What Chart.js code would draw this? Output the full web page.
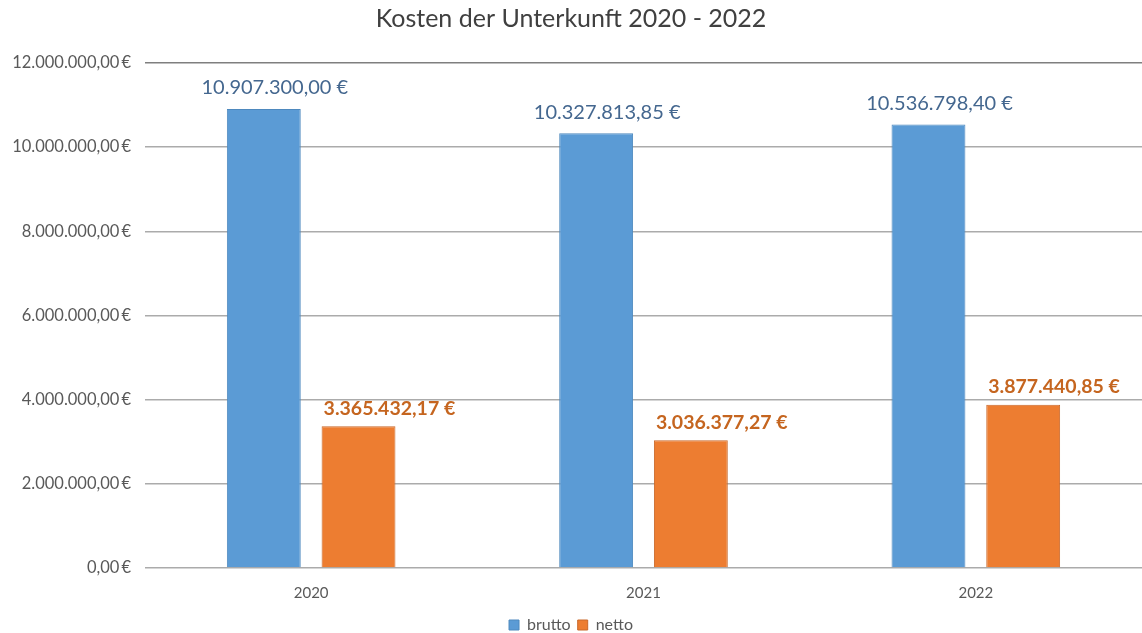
<!DOCTYPE html>
<html lang="de">
<head>
<meta charset="utf-8">
<title>Kosten der Unterkunft 2020 - 2022</title>
<script src="https://cdn.jsdelivr.net/npm/chart.js@4.4.1/dist/chart.umd.min.js"></script>
<style>
  html, body { margin: 0; padding: 0; background: #fff; }
  #wrap { width: 1142px; height: 633px; }
</style>
</head>
<body>
<div id="wrap"><canvas id="chartKosten"></canvas></div>
<script>
'use strict';

/* ── DATA ── */
const YEARS  = ['2020', '2021', '2022'];
const BRUTTO = [10907300.00, 10327813.85, 10536798.40];
const NETTO  = [3365432.17, 3036377.27, 3877440.85];
const Y_MAX  = 12000000;
const Y_STEP = 2000000;

const BLUE   = '#5B9BD5';
const ORANGE = '#ED7D31';

/* ── Utilities ── */
const fmtEuro = v => v.toLocaleString('de-DE', { minimumFractionDigits: 2, maximumFractionDigits: 2 }) + ' €';
const fmtTick = v => v.toLocaleString('de-DE', { minimumFractionDigits: 2, maximumFractionDigits: 2 }) + '\u2009€';

const FONT = "Lato, 'Open Sans', sans-serif";

Chart.defaults.font.family = FONT;
Chart.defaults.color = '#595959';

/* ── data labels above bars ── */
const barLabels = {
  id: 'barLabels',
  afterDatasetsDraw(chart) {
    const ctx = chart.ctx;
    ctx.save();
    ctx.textBaseline = 'bottom';
    chart.data.datasets.forEach((ds, di) => {
      const meta = chart.getDatasetMeta(di);
      meta.data.forEach((bar, i) => {
        const txt = fmtEuro(ds.data[i]);
        if (di === 0) {
          ctx.font = `20px ${FONT}`;
          ctx.fillStyle = '#44678F';
          ctx.textAlign = 'center';
          ctx.fillText(txt, bar.x + 11, bar.y - 11);
        } else {
          ctx.font = `bold 19.5px ${FONT}`;
          ctx.fillStyle = '#C5651F';
          ctx.textAlign = 'left';
          ctx.fillText(txt, bar.x - bar.width / 2 + 2, bar.y - 8);
        }
      });
    });
    ctx.restore();
  },
};

new Chart(document.getElementById('chartKosten'), {
  type: 'bar',
  data: {
    labels: YEARS,
    datasets: [
      {
        label: 'brutto',
        data: BRUTTO,
        backgroundColor: BLUE,
        borderColor: '#4E89BE',
        borderWidth: 1,
        categoryPercentage: 0.57,
        barPercentage: 0.78,
      },
      {
        label: 'netto',
        data: NETTO,
        backgroundColor: ORANGE,
        borderColor: '#C9682A',
        borderWidth: 1,
        categoryPercentage: 0.57,
        barPercentage: 0.78,
      },
    ],
  },
  options: {
    responsive: true,
    maintainAspectRatio: false,
    animation: false,
    layout: { padding: { left: 0, right: 0, top: 0, bottom: -10 } },
    plugins: {
      title: {
        display: true,
        text: 'Kosten der Unterkunft 2020 - 2022',
        color: '#404040',
        font: { size: 25, weight: 'normal' },
        padding: { top: 4, bottom: 29 },
      },
      legend: {
        position: 'bottom',
        labels: {
          boxWidth: 10,
          boxHeight: 10,
          padding: 7,
          color: '#595959',
          font: { size: 16 },
        },
      },
      tooltip: {
        callbacks: { label: c => ` ${c.dataset.label}: ${fmtEuro(c.parsed.y)}` },
      },
    },
    scales: {
      x: {
        grid: { display: false },
        border: { display: false },
        ticks: { color: '#595959', font: { size: 15 }, padding: 8 },
      },
      y: {
        min: 0,
        max: Y_MAX,
        afterFit: s => { s.width = 145; },
        border: { display: false },
        grid: {
          drawTicks: false,
          lineWidth: 1.5,
          color: c => c.tick && c.tick.value === Y_MAX ? '#7f7f7f' : '#ababab',
        },
        ticks: {
          stepSize: Y_STEP,
          padding: 14,
          color: '#595959',
          font: { size: 16.5 },
          callback: v => fmtTick(v),
        },
      },
    },
  },
  plugins: [barLabels],
});
</script>
</body>
</html>
